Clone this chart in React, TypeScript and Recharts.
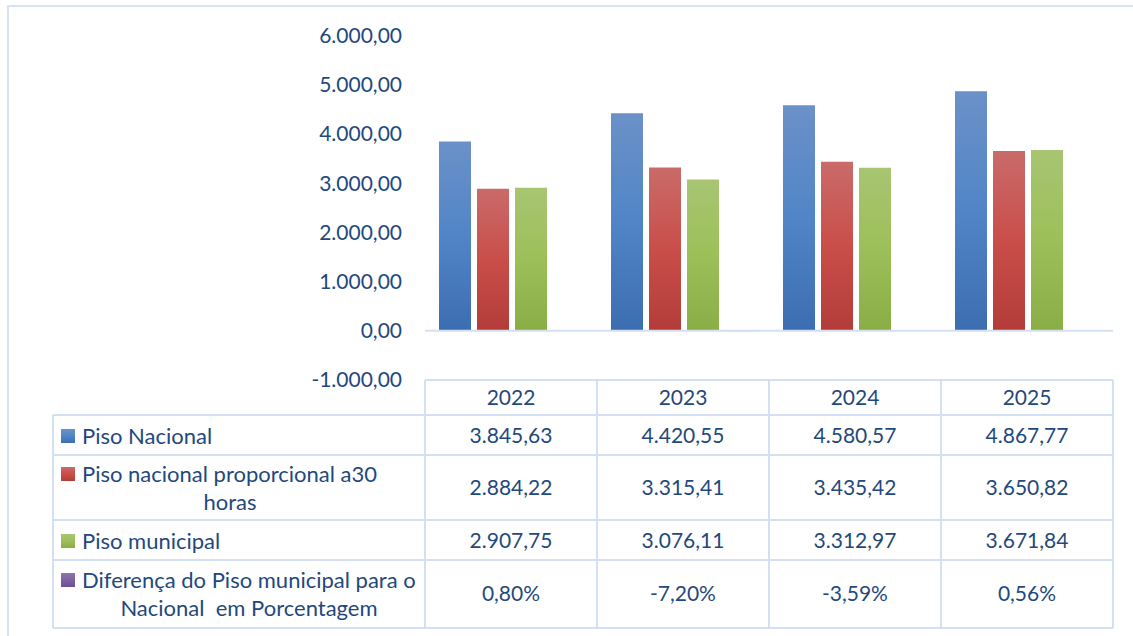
import React from 'react';
import { BarChart, Bar, XAxis, YAxis, ReferenceLine } from 'recharts';

const categories = ['2022', '2023', '2024', '2025'];
const pisoNacional = [3845.63, 4420.55, 4580.57, 4867.77];
const pisoProporcional = [2884.22, 3315.41, 3435.42, 3650.82];
const pisoMunicipal = [2907.75, 3076.11, 3312.97, 3671.84];
const diferenca = [0.8, -7.2, -3.59, 0.56];
const yTicks = [-1000, 0, 1000, 2000, 3000, 4000, 5000, 6000];

const seriesNames = [
  ['Piso Nacional'],
  ['Piso nacional proporcional a30', 'horas'],
  ['Piso municipal'],
  ['Diferença do Piso municipal para o', 'Nacional  em Porcentagem'],
];

const data = categories.map((c, i) => ({
  year: c,
  nacional: pisoNacional[i],
  proporcional: pisoProporcional[i],
  municipal: pisoMunicipal[i],
  diferenca: diferenca[i],
}));

const W = 1133;
const H = 636;
const PLOT_LEFT = 425;
const PLOT_RIGHT = 1113;
const PLOT_TOP = 35.5;
const PLOT_BOTTOM = 380;
const X_AXIS_H = 30;
const TEXT = '#1f497d';
const GRID = '#d3e0f1';
const FONT = 'Lato, "Open Sans", sans-serif';
const FS_NUM = 21;
const FS_LABEL = 22;

const ROW_LINES = [380, 415, 455, 520, 560, 628];
const LABEL_LEFT = 53;

function fmtNum(v: number): string {
  const neg = v < 0;
  const a = Math.abs(v);
  const fixed = a.toFixed(2);
  const [ip, dp] = fixed.split('.');
  const withDots = ip.replace(/\B(?=(\d{3})+(?!\d))/g, '.');
  return (neg ? '-' : '') + withDots + ',' + dp;
}
function fmtPct(v: number): string {
  return fmtNum(v) + '%';
}

const gradIds = ['gBlue', 'gRed', 'gGreen', 'gPurple'];

const Gradients = () => (
  <defs>
    <linearGradient id="gBlue" x1="0" y1="0" x2="0" y2="1">
      <stop offset="0%" stopColor="#6b91c7" />
      <stop offset="50%" stopColor="#5185c8" />
      <stop offset="100%" stopColor="#3c6db0" />
    </linearGradient>
    <linearGradient id="gRed" x1="0" y1="0" x2="0" y2="1">
      <stop offset="0%" stopColor="#c96b69" />
      <stop offset="50%" stopColor="#c94e4a" />
      <stop offset="100%" stopColor="#b33c39" />
    </linearGradient>
    <linearGradient id="gGreen" x1="0" y1="0" x2="0" y2="1">
      <stop offset="0%" stopColor="#a8c572" />
      <stop offset="50%" stopColor="#9dbf59" />
      <stop offset="100%" stopColor="#8bad46" />
    </linearGradient>
    <linearGradient id="gPurple" x1="0" y1="0" x2="0" y2="1">
      <stop offset="0%" stopColor="#8e73b0" />
      <stop offset="100%" stopColor="#6c4f92" />
    </linearGradient>
  </defs>
);

const TableColumnTick = (props: any) => {
  const { x, payload } = props;
  const i = categories.indexOf(String(payload.value));
  const rows = [
    { y: 398, t: categories[i] },
    { y: 436, t: fmtNum(pisoNacional[i]) },
    { y: 488, t: fmtNum(pisoProporcional[i]) },
    { y: 541, t: fmtNum(pisoMunicipal[i]) },
    { y: 594, t: fmtPct(diferenca[i]) },
  ];
  return (
    <g>
      {rows.map((r, k) => (
        <text
          key={k}
          x={x}
          y={r.y}
          dy="0.35em"
          textAnchor="middle"
          fill={TEXT}
          fontFamily={FONT}
          fontSize={FS_NUM}
        >
          {r.t}
        </text>
      ))}
    </g>
  );
};

const TableOverlay = () => {
  const band = (PLOT_RIGHT - PLOT_LEFT) / categories.length;
  const cols = categories.map((_, i) => PLOT_LEFT + i * band).concat([PLOT_RIGHT]);
  const labelRows = [
    { ys: [436], xs: [82], anchors: ['start'] },
    { ys: [474, 502], xs: [82, 230], anchors: ['start', 'middle'] },
    { ys: [541], xs: [82], anchors: ['start'] },
    { ys: [580, 608], xs: [82, 249], anchors: ['start', 'middle'] },
  ];
  const swatchY = [436, 474, 541, 580];
  return (
    <svg width={W} height={H} style={{ position: 'absolute', left: 0, top: 0, pointerEvents: 'none' }}>
      <Gradients />
      <rect x={8} y={6} width={W + 20} height={H + 20} fill="none" stroke="#d6e3f3" strokeWidth={2} />
      <line x1={PLOT_LEFT} x2={PLOT_RIGHT} y1={ROW_LINES[0]} y2={ROW_LINES[0]} stroke={GRID} strokeWidth={2} />
      {ROW_LINES.slice(1).map((y, k) => (
        <line key={k} x1={LABEL_LEFT} x2={PLOT_RIGHT} y1={y} y2={y} stroke={GRID} strokeWidth={2} />
      ))}
      <line x1={LABEL_LEFT} x2={LABEL_LEFT} y1={ROW_LINES[1]} y2={ROW_LINES[5]} stroke={GRID} strokeWidth={2} />
      {cols.map((x, k) => (
        <line key={k} x1={x} x2={x} y1={ROW_LINES[0]} y2={ROW_LINES[5]} stroke={GRID} strokeWidth={2} />
      ))}
      {seriesNames.map((lines, s) => (
        <g key={s}>
          <rect x={61} y={swatchY[s] - 7} width={14} height={14} fill={`url(#${gradIds[s]})`} />
          {lines.map((ln, j) => (
            <text
              key={j}
              x={labelRows[s].xs[j]}
              y={labelRows[s].ys[j]}
              dy="0.35em"
              textAnchor={labelRows[s].anchors[j] as any}
              fill={TEXT}
              fontFamily={FONT}
              fontSize={FS_LABEL}
              style={{ whiteSpace: 'pre' }}
            >
              {ln}
            </text>
          ))}
        </g>
      ))}
    </svg>
  );
};

export default function App() {
  return (
    <div style={{ position: 'absolute', left: 0, top: 0, width: W, height: H, background: '#fff' }}>
      <BarChart
        width={W}
        height={H}
        data={data}
        margin={{ top: PLOT_TOP, right: W - PLOT_RIGHT, bottom: H - PLOT_BOTTOM - X_AXIS_H, left: 0 }}
        barCategoryGap={14}
        barGap={6}
      >
        <Gradients />
        <XAxis
          dataKey="year"
          height={X_AXIS_H}
          axisLine={false}
          tickLine={false}
          tickSize={0}
          tickMargin={0}
          interval={0}
          tick={<TableColumnTick />}
        />
        <YAxis
          width={PLOT_LEFT}
          domain={[-1000, 6000]}
          ticks={yTicks}
          interval={0}
          axisLine={false}
          tickLine={false}
          tickSize={0}
          tickMargin={23}
          tickFormatter={(v: number) => fmtNum(v)}
          tick={{ fill: TEXT, fontFamily: FONT, fontSize: FS_NUM }}
        />
        <ReferenceLine y={0} stroke={GRID} strokeWidth={2} />
        <Bar dataKey="nacional" name="Piso Nacional" fill="url(#gBlue)" isAnimationActive={false} />
        <Bar dataKey="proporcional" name="Piso nacional proporcional a30 horas" fill="url(#gRed)" isAnimationActive={false} />
        <Bar dataKey="municipal" name="Piso municipal" fill="url(#gGreen)" isAnimationActive={false} />
        <Bar dataKey="diferenca" name="Diferença do Piso municipal para o Nacional em Porcentagem" fill="url(#gPurple)" isAnimationActive={false} />
      </BarChart>
      <TableOverlay />
    </div>
  );
}
